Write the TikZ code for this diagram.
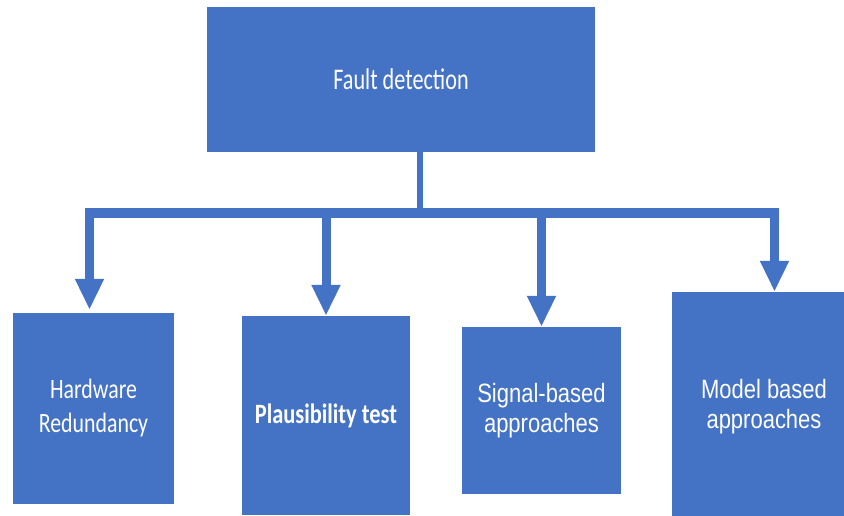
\documentclass[tikz,border=0pt]{standalone}
\usepackage{fontspec}
\usetikzlibrary{arrows.meta}
\newfontfamily\topfont[FakeStretch=0.74]{Carlito}
\newfontfamily\calfont[FakeStretch=0.78]{Carlito}
\newfontfamily\calbfont[FakeStretch=0.80]{Carlito}
\newfontfamily\arfont[FakeStretch=0.83]{Liberation Sans}
\definecolor{boxblue}{RGB}{68,114,196}
\begin{document}
\begin{tikzpicture}[x=1pt,y=-1pt,
  box/.style={fill=boxblue, draw=none, text=white, align=center, inner sep=0pt},
  conn/.style={draw=boxblue, line width=9pt, line cap=butt},
  arr/.style={conn, -{Triangle[width=27pt,length=31pt]}}]
  \clip (0,0) rectangle (844,516);
  % category boxes
  \node[box, minimum width=388pt, minimum height=145pt,
        font=\topfont\fontsize{30}{36}\selectfont] (top) at (401,79.5) {Fault detection};
  \node[box, minimum width=161pt, minimum height=191pt,
        font=\calfont\fontsize{28}{34}\selectfont] (b1) at (93.5,408.5) {Hardware\\Redundancy};
  \node[box, minimum width=168pt, minimum height=199pt,
        font=\calbfont\bfseries\fontsize{28}{34}\selectfont] (b2) at (326,415.5) {Plausibility test};
  \node[box, minimum width=159pt, minimum height=167pt,
        font=\arfont\fontsize{26.5}{30}\selectfont] (b3) at (541.5,410.5) {Signal-based\\approaches};
  \node[box, minimum width=184pt, minimum height=230pt,
        font=\arfont\fontsize{26.5}{30}\selectfont] (b4) at (764,407) {Model based\\approaches};
  % junction points on the distribution bar
  \coordinate (j) at (420,213.5);
  \coordinate (l) at (85,213.5);
  \coordinate (r) at (779,213.5);
  \coordinate (t1) at (89.5,209);
  \coordinate (t2) at (326,209);
  \coordinate (t3) at (541.5,209);
  \coordinate (t4) at (774.5,209);
  % stem and bar
  \draw[conn, line width=6pt] (top.south -| j) -- (j);
  \draw[conn, line width=10pt] (l) -- (r);
  % branch arrows
  \draw[arr, shorten >=3pt] (t1) -- (t1 |- b1.north);
  \draw[arr] (t2) -- (t2 |- b2.north);
  \draw[arr] (t3) -- (t3 |- b3.north);
  \draw[arr] (t4) -- (t4 |- b4.north);
\end{tikzpicture}
\end{document}
